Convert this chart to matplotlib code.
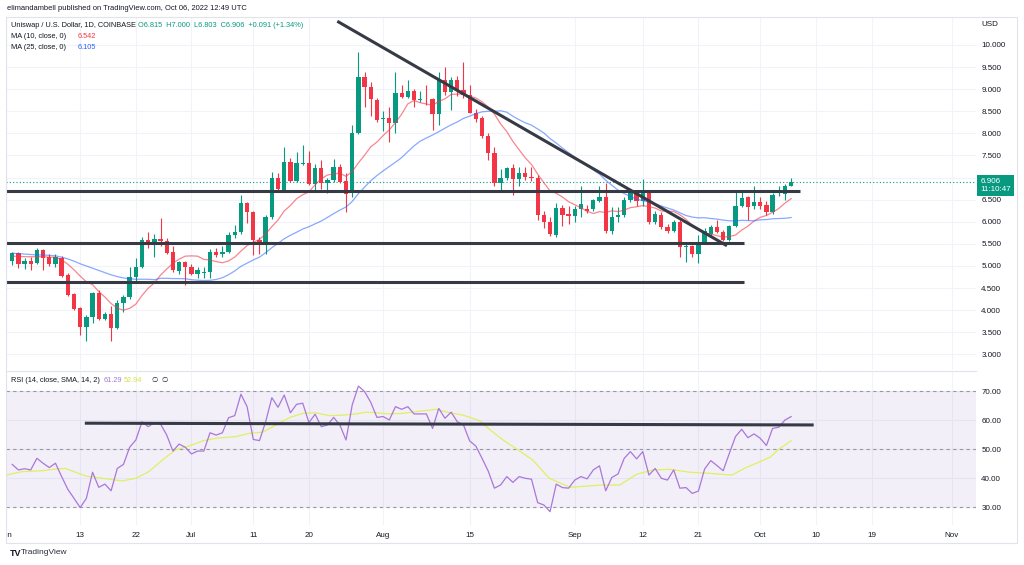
import matplotlib
matplotlib.use('Agg')
import matplotlib.pyplot as plt
import numpy as np
import pandas as pd
from matplotlib.patches import Rectangle
from matplotlib.transforms import Bbox, TransformedBbox

plt.rcParams['font.family'] = ['Liberation Sans', 'DejaVu Sans']

# UNI/USD daily candles, day 0 = 1 Jun 2022, last candle = 6 Oct 2022
days = np.arange(1, 128)
opens = [5.12, 5.29, 5.05, 5.12, 5.06, 5.36, 5.20, 5.05, 5.17, 4.80,
         4.37, 4.04, 3.62, 3.84, 4.40, 3.80, 3.92, 3.59, 4.16, 4.29,
         4.76, 4.97, 5.59, 5.48, 5.60, 5.57, 5.32, 4.89, 5.08, 4.98,
         4.82, 4.85, 4.87, 5.32, 5.27, 5.32, 5.70, 5.78, 6.43, 6.23,
         5.59, 5.52, 6.10, 7.00, 6.72, 7.35, 6.93, 7.31, 7.33, 6.86,
         7.21, 6.87, 6.95, 7.25, 6.93, 6.68, 8.02, 9.27, 9.06, 8.76,
         8.32, 8.34, 8.23, 8.91, 8.82, 8.97, 8.76, 8.78, 8.77, 8.44,
         9.21, 8.94, 9.21, 8.98, 8.87, 8.47, 8.34, 7.95, 7.55, 6.87,
         6.98, 7.21, 6.96, 7.10, 7.02, 6.99, 6.15, 6.00, 5.70, 6.32,
         6.17, 6.13, 6.28, 6.30, 6.28, 6.48, 6.57, 5.80, 6.10, 6.15,
         6.49, 6.68, 6.48, 6.66, 6.00, 6.15, 5.89, 5.80, 6.00, 5.43,
         5.45, 5.27, 5.55, 5.72, 5.89, 5.78, 5.59, 5.90, 6.36, 6.55,
         6.36, 6.45, 6.38, 6.23, 6.62, 6.63, 6.815]
highs = [5.32, 5.32, 5.17, 5.20, 5.40, 5.38, 5.28, 5.28, 5.22, 4.84,
         4.40, 4.08, 3.90, 4.42, 4.46, 3.97, 4.10, 4.22, 4.35, 4.98,
         5.17, 5.66, 5.77, 5.73, 6.08, 5.64, 5.45, 5.12, 5.12, 5.05,
         4.98, 4.98, 5.38, 5.41, 5.45, 5.77, 5.93, 6.61, 6.45, 6.25,
         5.65, 6.16, 7.13, 7.10, 7.70, 7.44, 7.58, 7.74, 7.60, 7.30,
         7.40, 7.00, 7.42, 7.30, 7.10, 8.20, 9.83, 9.40, 9.16, 8.80,
         8.50, 8.60, 9.38, 9.10, 9.20, 9.00, 8.95, 9.10, 8.80, 9.40,
         9.50, 9.28, 9.30, 9.62, 9.10, 8.55, 8.40, 8.00, 7.70, 7.20,
         7.25, 7.30, 7.25, 7.25, 7.25, 7.05, 6.25, 6.10, 6.42, 6.38,
         6.35, 6.35, 6.82, 6.38, 6.52, 6.82, 6.88, 6.33, 6.33, 6.55,
         6.73, 6.71, 6.96, 6.70, 6.25, 6.23, 5.95, 6.05, 6.05, 5.50,
         5.47, 5.70, 5.85, 5.92, 6.04, 5.82, 5.92, 6.68, 6.68, 6.58,
         6.80, 6.55, 6.48, 6.65, 6.80, 6.85, 7.00]
lows = [5.02, 4.95, 4.93, 4.90, 5.05, 4.90, 5.00, 4.98, 4.75, 4.33,
        4.00, 3.44, 3.30, 3.70, 3.78, 3.78, 3.31, 3.57, 3.97, 4.25,
        4.63, 4.95, 5.41, 5.21, 5.45, 5.27, 4.86, 4.83, 4.57, 4.79,
        4.73, 4.73, 4.73, 5.20, 5.20, 5.30, 5.64, 5.73, 5.97, 5.25,
        5.28, 5.28, 6.06, 6.72, 6.70, 6.89, 6.89, 7.28, 6.84, 6.70,
        6.74, 6.64, 6.90, 6.87, 6.23, 6.57, 7.98, 8.60, 8.40, 8.25,
        8.06, 7.81, 8.00, 8.80, 8.80, 8.60, 8.70, 8.65, 8.08, 8.20,
        8.87, 8.53, 8.85, 8.80, 8.45, 8.25, 7.90, 7.40, 6.80, 6.72,
        6.95, 6.61, 6.80, 6.95, 6.93, 6.05, 5.85, 5.68, 5.66, 5.90,
        5.95, 6.00, 6.10, 6.20, 6.25, 6.45, 5.75, 5.73, 6.00, 6.10,
        6.45, 6.35, 6.35, 5.95, 5.95, 5.83, 5.75, 5.78, 5.21, 5.10,
        5.20, 5.06, 5.50, 5.68, 5.75, 5.57, 5.57, 5.88, 6.33, 6.05,
        6.30, 6.28, 6.15, 6.18, 6.58, 6.50, 6.803]
closes = [5.29, 5.05, 5.12, 5.05, 5.36, 5.17, 5.05, 5.20, 4.77, 4.34,
          4.02, 3.63, 3.84, 4.40, 3.80, 3.92, 3.59, 4.17, 4.29, 4.76,
          4.97, 5.59, 5.48, 5.60, 5.57, 5.29, 4.91, 5.08, 4.98, 4.82,
          4.90, 4.87, 5.32, 5.25, 5.32, 5.70, 5.78, 6.43, 6.23, 5.59,
          5.52, 6.10, 7.00, 6.74, 7.36, 6.93, 7.32, 7.33, 6.86, 7.22,
          6.87, 6.95, 7.25, 6.91, 6.64, 8.02, 9.27, 9.06, 8.77, 8.30,
          8.34, 8.23, 8.91, 8.82, 8.97, 8.76, 8.78, 8.77, 8.44, 9.21,
          8.94, 9.21, 8.98, 8.87, 8.47, 8.32, 7.95, 7.56, 6.87, 6.98,
          7.21, 6.96, 7.10, 7.02, 6.99, 6.15, 6.00, 5.72, 6.32, 6.15,
          6.13, 6.28, 6.40, 6.24, 6.49, 6.57, 5.80, 6.10, 6.15, 6.49,
          6.68, 6.48, 6.66, 6.00, 6.18, 5.89, 5.80, 6.00, 5.42, 5.45,
          5.27, 5.55, 5.80, 5.89, 5.78, 5.59, 5.90, 6.36, 6.53, 6.34,
          6.45, 6.36, 6.23, 6.60, 6.64, 6.81, 6.906]

# moving averages before enough candles are on screen
ma10_head = [5.22, 5.22, 5.21, 5.21, 5.21, 5.21, 5.20, 5.20, 5.14]
ma25_head = [5.29, 5.28, 5.27, 5.26, 5.25, 5.25, 5.24, 5.23, 5.20, 5.16,
             5.11, 5.05, 5.00, 4.95, 4.90, 4.85, 4.80, 4.76, 4.73, 4.71,
             4.70, 4.70, 4.70, 4.69]

# RSI(14) and its SMA(14)
rsi = [44.8, 42.9, 43.3, 42.9, 46.9, 45.2, 43.7, 45.2, 40.6, 36.2,
       33.1, 29.9, 33.1, 42.1, 36.9, 38.0, 35.7, 43.4, 44.8, 50.7,
       53.2, 59.5, 57.8, 59.2, 58.7, 54.9, 49.4, 51.8, 50.7, 48.4,
       49.4, 49.4, 55.7, 54.9, 55.7, 60.9, 61.6, 69.0, 64.7, 53.4,
       53.0, 59.5, 67.8, 64.5, 68.7, 62.6, 65.5, 65.9, 59.2, 62.1,
       57.8, 58.4, 61.0, 58.4, 53.2, 65.3, 71.8, 69.9, 66.2, 61.0,
       61.3, 60.1, 64.7, 63.8, 64.7, 62.2, 62.2, 62.2, 57.2, 64.1,
       60.7, 62.8, 59.5, 58.4, 52.9, 51.1, 46.9, 42.5, 36.6, 37.7,
       40.6, 38.6, 40.6, 40.0, 39.7, 31.6, 30.8, 28.5, 38.0, 36.8,
       36.6, 39.4, 40.6, 39.8, 42.9, 44.3, 35.7, 40.3, 41.5, 46.9,
       49.2, 46.7, 49.2, 41.1, 43.4, 40.0, 39.4, 42.9, 36.6, 36.8,
       34.8, 35.6, 43.2, 46.1, 44.4, 42.6, 48.6, 54.4, 56.9, 54.0,
       55.3, 53.8, 51.3, 57.2, 57.6, 60.1, 61.29]
sma_days = [-0.6, 2.6, 5.8, 8.0, 9.6, 11.0, 12.9, 15.6, 18.8, 21.0,
            23.1, 25.3, 27.4, 29.6, 31.8, 33.9, 37.2, 39.3, 41.5, 43.7,
            45.8, 48.0, 50.1, 52.3, 54.5, 56.6, 58.2, 59.9, 62.0, 64.2,
            66.3, 69.6, 71.8, 73.9, 76.6, 78.2, 80.4, 82.6, 85.2, 87.9,
            91.2, 94.4, 96.6, 99.3, 102.0, 104.7, 107.4, 110.6, 113.9, 117.4,
            119.6, 121.4, 123.6, 125.0, 127.0]
sma_vals = [40.8, 42.3, 42.6, 43.2, 43.4, 42.3, 40.8, 40.0, 39.1, 40.0,
            42.3, 46.3, 49.8, 51.1, 52.9, 53.8, 54.4, 55.5, 55.9, 58.4,
            60.9, 62.4, 62.6, 61.6, 61.8, 62.2, 62.8, 62.6, 62.2, 62.4,
            63.0, 63.8, 62.6, 61.8, 59.9, 56.9, 53.2, 50.1, 46.3, 40.0,
            36.9, 37.4, 37.7, 37.7, 41.4, 42.9, 43.1, 42.1, 41.7, 41.1,
            43.6, 45.2, 47.3, 50.0, 52.94]

# hand-drawn lines: (day, value) end points
levels = [6.70, 5.53, 4.64]
level_ends = [128.5, 119.4, 119.4]
trend_days = [53.8, 116.4]
trend_prices = [10.52, 5.475]
rsi_line_days = [13.0, 130.4]
rsi_line_vals = [59.0, 58.4]

tick_days = [0, 12, 21, 30, 40, 49, 61, 75, 92, 103, 112, 122, 131, 140, 153]
tick_labels = ['Jun', '13', '22', 'Jul', '11', '20', 'Aug', '15', 'Sep',
               '12', '21', 'Oct', '10', '19', 'Nov']

GREEN = '#089981'
RED = '#f23645'
TXT = '#131722'
GRID = '#f0f3fa'
FS = 5.8   # axis labels
LFS = 5.3  # legends

W, H = 1024, 565


def fx(px):
    return px / W


def fy(py):
    return 1 - py / H


fig = plt.figure(figsize=(10.24, 5.65), dpi=100)
ax = fig.add_axes([fx(6), fy(370), fx(976) - fx(6), fy(17) - fy(370)])
ax_rsi = fig.add_axes([fx(6), fy(525), fx(976) - fx(6), fy(371) - fy(525)], sharex=ax)

o = np.array(opens)
c = np.array(closes)
hi = np.array(highs)
lo = np.array(lows)
col = np.where(c >= o, GREEN, RED)

# candles
ax.vlines(days, lo, hi, colors=col, lw=0.8, zorder=3)
ax.bar(days, np.maximum(np.abs(c - o), 0.015), bottom=np.minimum(o, c),
       width=0.7, color=col, linewidth=0, zorder=4)

# moving averages
cs = pd.Series(closes)
ma10 = cs.rolling(10).mean().to_numpy()
ma25 = cs.rolling(25).mean().to_numpy()
ma10[:9] = ma10_head
ma25[:24] = ma25_head
ax.plot(days, ma10, color=RED, lw=0.9, alpha=0.6, zorder=5)
ax.plot(days, ma25, color='#2962ff', lw=0.9, alpha=0.55, zorder=5)

# drawings
for lv, end in zip(levels, level_ends):
    ax.plot([0, end], [lv, lv], color='#363a45', lw=2.2, zorder=6,
            solid_capstyle='butt')
ax.plot(trend_days, trend_prices, color='#363a45', lw=2.2, zorder=6)

# last price line + tag
last = closes[-1]
ax.axhline(last, color=GREEN, lw=0.8, ls=(0, (1, 2)), zorder=2)
ax.annotate(f'{last:.3f}\n11:10:47', xy=(1, last), xycoords=('axes fraction', 'data'),
            xytext=(3.2, 2.6), textcoords='offset points', ha='left', va='top',
            color='white', fontsize=FS, linespacing=1.15, zorder=10,
            annotation_clip=False,
            bbox=dict(boxstyle='square,pad=0.42', fc=GREEN, ec='none'))

ax.set_xlim(0.32, 156.9)
ax.set_ylim(2.647, 10.633)
ax.set_xticks(tick_days)
ax.set_yticks(np.arange(3.0, 10.01, 0.5))
ax.set_yticklabels([f'{v:.3f}' for v in np.arange(3.0, 10.01, 0.5)])
ax.yaxis.tick_right()
ax.tick_params(axis='both', length=0, labelsize=FS, labelcolor=TXT, pad=3.8)
ax.tick_params(axis='x', labelbottom=False)
ax.grid(color=GRID, lw=0.8)
ax.set_axisbelow(True)
for s in ax.spines.values():
    s.set_visible(False)

# RSI pane
ax_rsi.axhspan(30, 70, color='#7e57c2', alpha=0.09, lw=0, zorder=1)
for v in (70, 50, 30):
    ax_rsi.axhline(v, color='#9598a1', lw=0.8, ls=(0, (3, 3)), zorder=2)
ax_rsi.plot(days, rsi, color='#a977d9', lw=0.9, zorder=4)
ax_rsi.plot(sma_days, sma_vals, color='#e0f060', lw=0.9, zorder=3)
ax_rsi.plot(rsi_line_days, rsi_line_vals, color='#363a45', lw=2.2, zorder=5)
ax_rsi.set_ylim(23.9, 77.0)
ax_rsi.set_yticks([30, 40, 50, 60, 70])
ax_rsi.set_yticklabels([f'{v:.2f}' for v in [30, 40, 50, 60, 70]])
ax_rsi.yaxis.tick_right()
ax_rsi.set_xticks(tick_days)
ax_rsi.set_xticklabels(tick_labels)
ax_rsi.tick_params(axis='both', length=0, labelsize=FS, labelcolor=TXT, pad=3.8)
ax_rsi.tick_params(axis='x', pad=5)
ax_rsi.grid(color=GRID, lw=0.8)
ax_rsi.set_axisbelow(True)
for s in ax_rsi.spines.values():
    s.set_visible(False)
ax_rsi.spines['top'].set_visible(True)
ax_rsi.spines['top'].set_color('#e0e3eb')

clip = TransformedBbox(Bbox([[fx(6), 0], [1, 1]]), fig.transFigure)
for lbl in ax_rsi.get_xticklabels():
    lbl.set_clip_on(True)
    lbl.set_clip_box(clip)

# frame
fig.add_artist(Rectangle((fx(6), fy(543)), fx(1017) - fx(6), fy(17) - fy(543),
                         transform=fig.transFigure, fill=False, ec='#e0e3eb', lw=0.8))

# header and legends
fig.text(fx(7), fy(8), 'elimandambell published on TradingView.com, Oct 06, 2022 12:49 UTC',
         fontsize=5.4, color=TXT, va='center')
fig.text(fx(11), fy(25.5), 'Uniswap / U.S. Dollar, 1D, COINBASE', fontsize=LFS, color=TXT, va='center')
chg = closes[-1] - opens[-1]
fig.text(fx(138), fy(25.5),
         f'O{opens[-1]:.3f}  H{highs[-1]:.3f}  L{lows[-1]:.3f}  C{closes[-1]:.3f}  '
         f'{chg:+.3f} ({chg / opens[-1] * 100:+.2f}%)',
         fontsize=LFS, color=GREEN, va='center')
fig.text(fx(11), fy(36.5), 'MA (10, close, 0)', fontsize=LFS, color=TXT, va='center')
fig.text(fx(78), fy(36.5), '6.542', fontsize=LFS, color=RED, va='center')
fig.text(fx(11), fy(47.5), 'MA (25, close, 0)', fontsize=LFS, color=TXT, va='center')
fig.text(fx(78), fy(47.5), '6.105', fontsize=LFS, color='#2962ff', va='center')
fig.text(fx(981), fy(25), 'USD', fontsize=FS, color=TXT, va='center')

fig.text(fx(11), fy(380), 'RSI (14, close, SMA, 14, 2)', fontsize=LFS, color=TXT, va='center')
fig.text(fx(104), fy(380), f'{rsi[-1]:.2f}', fontsize=LFS, color='#a977d9', va='center')
fig.text(fx(124), fy(380), f'{sma_vals[-1]:.2f}', fontsize=LFS, color='#d4e44a', va='center')
fig.text(fx(151), fy(380), '\u2205', fontsize=LFS, color=TXT, va='center')
fig.text(fx(161), fy(380), '\u2205', fontsize=LFS, color=TXT, va='center')

fig.text(fx(10), fy(553), 'TV', fontsize=6.5, color=TXT, va='center', fontweight='bold')
fig.text(fx(21), fy(553), 'TradingView', fontsize=6.0, color='#2a2e39', va='center')

fig.savefig('out.png', dpi=100, facecolor='white')
